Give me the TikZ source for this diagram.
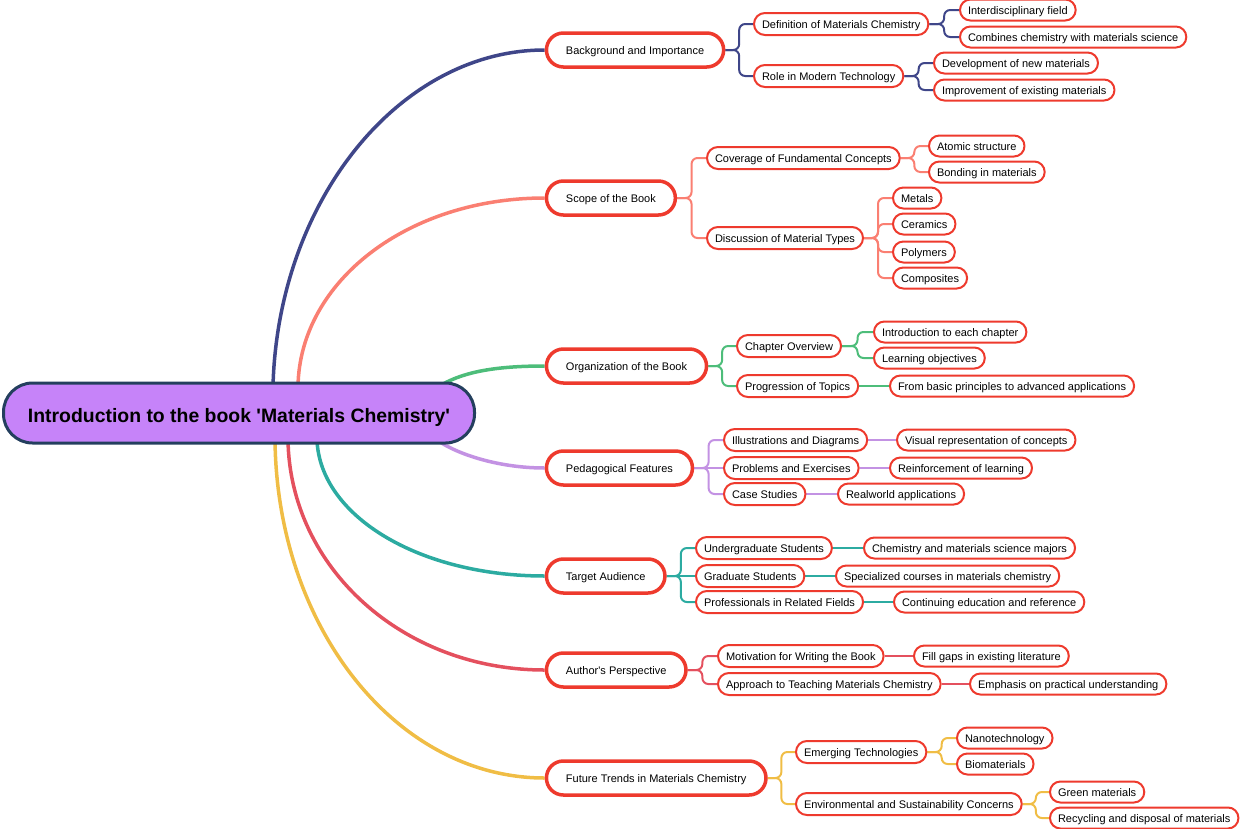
\documentclass[tikz,border=0pt]{standalone}
\usepackage{fontspec}
\setmainfont{Liberation Sans}
\usetikzlibrary{calc,backgrounds}
\definecolor{leafred}{HTML}{EE3A2D}
\definecolor{cBlue}{HTML}{3F4689}
\definecolor{cSalmon}{HTML}{FA7F72}
\definecolor{cGreen}{HTML}{4DBD7A}
\definecolor{cLav}{HTML}{C392E3}
\definecolor{cTeal}{HTML}{2CABA1}
\definecolor{cRed}{HTML}{E4505E}
\definecolor{cYellow}{HTML}{F0BD45}
\definecolor{rootfill}{HTML}{C683F9}
\definecolor{rootline}{HTML}{243F5E}
\newcommand\linkto[3]{\draw[sub,#1] (#2.east) -- ($(#2.east)!.5!(#2.east -| #3.west)$) |- (#3.west);}
\newcommand\linkstraight[3]{\draw[line width=2pt,#1] (#2.east) -- (#3.west);}
\begin{document}
\begin{tikzpicture}[x=1pt,y=-1pt,
  leaf/.style={draw=leafred, fill=white, line width=2pt, rounded corners=10.4pt,
    minimum height=21pt, inner xsep=8pt, inner ysep=0pt, anchor=west,
    font=\fontsize{11}{13}\selectfont, text height=10pt, text depth=2pt},
  mid/.style={leaf, minimum height=22pt, rounded corners=10.9pt},
  branch/.style={draw=leafred, fill=white, line width=3.5pt, rounded corners=16.9pt,
    minimum height=34pt, inner xsep=19.5pt, inner ysep=0pt, anchor=west,
    font=\fontsize{11}{13}\selectfont, text height=10pt, text depth=2pt},
  rootnode/.style={draw=rootline, fill=rootfill, line width=3pt, rounded corners=29pt,
    minimum height=60pt, minimum width=471pt, inner sep=0pt,
    font=\fontsize{19.4}{22}\selectfont\bfseries, text height=21pt, text depth=1.6pt},
  trunk/.style={line width=3.5pt},
  sub/.style={line width=2pt, rounded corners=6pt},
]
\useasboundingbox (0,0) rectangle (1240,828);

% root
\node[rootnode] (root) at (239,413) {Introduction to the book \textquotesingle Materials Chemistry\textquotesingle};

% main branches
\node[branch] (bg)   at (544.7,50)  {Background and Importance};
\node[branch] (scope) at (544.7,198) {Scope of the Book};
\node[branch] (org)  at (544.7,366) {Organization of the Book};
\node[branch] (ped)  at (544.7,468) {Pedagogical Features};
\node[branch] (tgt)  at (544.7,576) {Target Audience};
\node[branch] (auth) at (544.7,670) {Author\textquotesingle s Perspective};
\node[branch] (fut)  at (544.7,778) {Future Trends in Materials Chemistry};

% group 1
\node[mid] (def)  at (753,24) {Definition of Materials Chemistry};
\node[mid] (role) at (753,76) {Role in Modern Technology};
\node[leaf] (interd) at (959,10) {Interdisciplinary field};
\node[leaf] (comb)   at (959,37) {Combines chemistry with materials science};
\node[leaf] (dev)    at (933,63) {Development of new materials};
\node[leaf] (impr)   at (933,90) {Improvement of existing materials};

% group 2
\node[mid] (cov)  at (706,158) {Coverage of Fundamental Concepts};
\node[mid] (disc) at (706,238) {Discussion of Material Types};
\node[leaf] (atom) at (928,146) {Atomic structure};
\node[leaf] (bond) at (928,172) {Bonding in materials};
\node[leaf] (metals) at (892,198) {Metals};
\node[leaf] (cer)  at (892,224) {Ceramics};
\node[leaf] (poly) at (892,252) {Polymers};
\node[leaf] (comp) at (892,278) {Composites};

% group 3
\node[mid] (chap) at (736,346) {Chapter Overview};
\node[mid] (prog) at (736,386) {Progression of Topics};
\node[leaf] (intro) at (873,332) {Introduction to each chapter};
\node[leaf] (learn) at (873,358) {Learning objectives};
\node[leaf] (from)  at (889,386) {From basic principles to advanced applications};

% group 4
\node[mid] (ill)  at (723,440) {Illustrations and Diagrams};
\node[mid] (prob) at (723,468) {Problems and Exercises};
\node[mid] (case) at (723,494) {Case Studies};
\node[leaf] (vis)   at (896,440) {Visual representation of concepts};
\node[leaf] (reinf) at (889,468) {Reinforcement of learning};
\node[leaf] (real)  at (837,494) {Realworld applications};

% group 5
\node[mid] (under) at (695,548) {Undergraduate Students};
\node[mid] (grad)  at (695,576) {Graduate Students};
\node[mid] (prof)  at (695,602) {Professionals in Related Fields};
\node[leaf] (chem) at (863,548) {Chemistry and materials science majors};
\node[leaf] (spec) at (835,576) {Specialized courses in materials chemistry};
\node[leaf] (cont) at (893,602) {Continuing education and reference};

% group 6
\node[mid] (mot)  at (717,656) {Motivation for Writing the Book};
\node[mid] (appr) at (717,684) {Approach to Teaching Materials Chemistry};
\node[leaf] (fill) at (913,656) {Fill gaps in existing literature};
\node[leaf] (emph) at (969,684) {Emphasis on practical understanding};

% group 7
\node[mid] (emer) at (795,752) {Emerging Technologies};
\node[mid] (env)  at (795,804) {Environmental and Sustainability Concerns};
\node[leaf] (nano)  at (956,738) {Nanotechnology};
\node[leaf] (bio)   at (956,764) {Biomaterials};
\node[leaf] (green) at (1049,792) {Green materials};
\node[leaf] (recyc) at (1049,818) {Recycling and disposal of materials};

\begin{pgfonlayer}{background}
% trunks
\draw[trunk,cBlue]   (273,386) .. controls (278,200) and (400,50) .. (bg.west);
\draw[trunk,cSalmon] (298,386) .. controls (300,281) and (408,198) .. (scope.west);
\draw[trunk,cGreen]  (443,384) .. controls (465,372) and (495,366) .. (org.west);
\draw[trunk,cLav]    (440,442) .. controls (460,455) and (500,468) .. (ped.west);
\draw[trunk,cTeal]   (317,440) .. controls (320,516) and (419,576) .. (tgt.west);
\draw[trunk,cRed]    (288,440) .. controls (290,568) and (403,670) .. (auth.west);
\draw[trunk,cYellow] (275,440) .. controls (277,627) and (396,778) .. (fut.west);
% group links
\linkto{cBlue}{bg}{def} \linkto{cBlue}{bg}{role}
\linkto{cBlue}{def}{interd} \linkto{cBlue}{def}{comb}
\linkto{cBlue}{role}{dev} \linkto{cBlue}{role}{impr}
\linkto{cSalmon}{scope}{cov} \linkto{cSalmon}{scope}{disc}
\linkto{cSalmon}{cov}{atom} \linkto{cSalmon}{cov}{bond}
\linkto{cSalmon}{disc}{metals} \linkto{cSalmon}{disc}{cer}
\linkto{cSalmon}{disc}{poly} \linkto{cSalmon}{disc}{comp}
\linkto{cGreen}{org}{chap} \linkto{cGreen}{org}{prog}
\linkto{cGreen}{chap}{intro} \linkto{cGreen}{chap}{learn}
\linkstraight{cGreen}{prog}{from}
\linkto{cLav}{ped}{ill} \linkstraight{cLav}{ped}{prob} \linkto{cLav}{ped}{case}
\linkstraight{cLav}{ill}{vis} \linkstraight{cLav}{prob}{reinf} \linkstraight{cLav}{case}{real}
\linkto{cTeal}{tgt}{under} \linkstraight{cTeal}{tgt}{grad} \linkto{cTeal}{tgt}{prof}
\linkstraight{cTeal}{under}{chem} \linkstraight{cTeal}{grad}{spec} \linkstraight{cTeal}{prof}{cont}
\linkto{cRed}{auth}{mot} \linkto{cRed}{auth}{appr}
\linkstraight{cRed}{mot}{fill} \linkstraight{cRed}{appr}{emph}
\linkto{cYellow}{fut}{emer} \linkto{cYellow}{fut}{env}
\linkto{cYellow}{emer}{nano} \linkto{cYellow}{emer}{bio}
\linkto{cYellow}{env}{green} \linkto{cYellow}{env}{recyc}
\end{pgfonlayer}
\end{tikzpicture}
\end{document}
